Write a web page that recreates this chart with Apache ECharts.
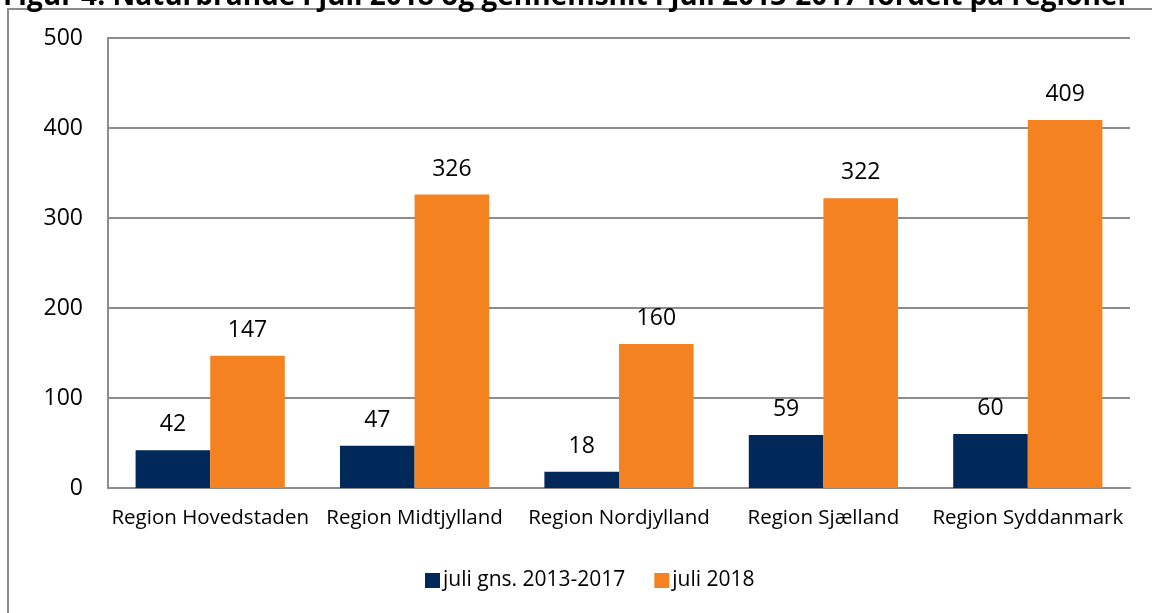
<!DOCTYPE html>
<html>
<head>
<meta charset="utf-8">
<script src="https://cdn.jsdelivr.net/npm/echarts@6/dist/echarts.min.js"></script>
<style>
    html, body { margin: 0; padding: 0; background: #fff; }
    #chart { width: 1152px; height: 613px; }
</style>
</head>
<body>
<div id="chart"></div>
<script>
// regioner
var regions = ['Region Hovedstaden', 'Region Midtjylland', 'Region Nordjylland', 'Region Sjælland', 'Region Syddanmark'];
// gennemsnit juli 2013-2017
var avgJuly = [42, 47, 18, 59, 60];
// juli 2018
var july2018 = [147, 326, 160, 322, 409];

var font = '"Open Sans", "Noto Sans", sans-serif';

var chart = echarts.init(document.getElementById('chart'));
var option = {
    animation: false,
    title: {
        text: 'Figur 4. Naturbrande i juli 2018 og gennemsnit i juli 2013-2017 fordelt på regioner',
        left: -2,
        top: -22,
        textStyle: {fontFamily: font, fontSize: 28, fontWeight: 'bold', color: '#000'}
    },
    graphic: [{
        type: 'polyline',
        shape: {points: [[8, 640], [8, 9], [1170, 9]]},
        style: {stroke: '#8c8c8c', lineWidth: 2, fill: null}
    }],
    legend: {
        data: ['juli gns. 2013-2017', 'juli 2018'],
        bottom: 17,
        left: 420,
        itemWidth: 15,
        itemHeight: 15,
        itemGap: 29,
        icon: 'rect',
        textStyle: {fontFamily: font, fontSize: 21, color: '#000', padding: [0, 0, 0, -2]}
    },
    grid: {
        left: 108,
        right: 22,
        top: 38,
        bottom: 125,
        containLabel: false
    },
    xAxis: {
        type: 'category',
        data: regions,
        axisLine: {lineStyle: {color: '#8c8c8c', width: 2}},
        axisTick: {show: false},
        axisLabel: {fontFamily: font, fontSize: 20.5, color: '#000', margin: 20, interval: 0}
    },
    yAxis: {
        type: 'value',
        min: 0,
        max: 500,
        interval: 100,
        axisLine: {show: true, lineStyle: {color: '#8c8c8c', width: 2}},
        axisTick: {show: false},
        splitLine: {lineStyle: {color: '#8c8c8c', width: 2}},
        axisLabel: {fontFamily: font, fontSize: 23, color: '#000', margin: 25}
    },
    series: [
        {
            name: 'juli gns. 2013-2017',
            type: 'bar',
            data: avgJuly,
            barGap: 0,
            barCategoryGap: '27%',
            itemStyle: {color: '#00295a'},
            label: {show: true, position: 'top', distance: 14, fontFamily: font, fontSize: 23, color: '#000'}
        },
        {
            name: 'juli 2018',
            type: 'bar',
            data: july2018,
            barGap: 0,
            barCategoryGap: '27%',
            itemStyle: {color: '#f58220'},
            label: {show: true, position: 'top', distance: 14, fontFamily: font, fontSize: 23, color: '#000'}
        }
    ]
};
chart.setOption(option);
</script>
</body>
</html>
